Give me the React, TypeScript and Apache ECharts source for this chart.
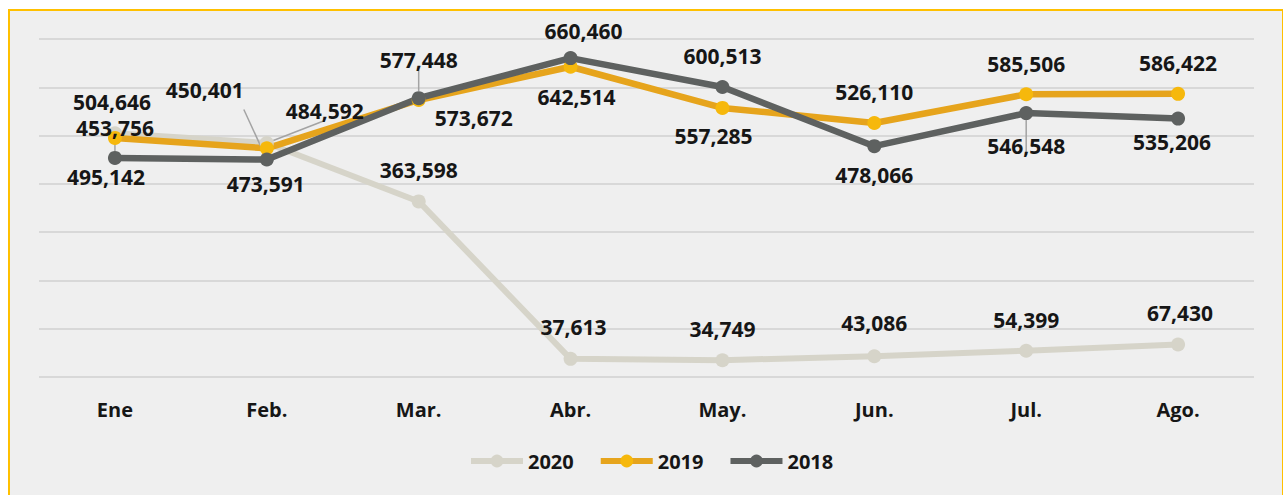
import React, { useEffect, useRef } from "react";
import * as echarts from "echarts";

const categories = ["Ene", "Feb.", "Mar.", "Abr.", "May.", "Jun.", "Jul.", "Ago."];
const seriesNames = ["2020", "2019", "2018"];
const values2020 = [504646, 484592, 363598, 37613, 34749, 43086, 54399, 67430];
const values2019 = [495142, 473591, 573672, 642514, 557285, 526110, 585506, 586422];
const values2018 = [453756, 450401, 577448, 660460, 600513, 478066, 546548, 535206];
const yMin = 0;
const yMax = 700000;
const yInterval = 100000;

// label offsets (relative to each point), kept apart from the data
const off2020 = [[-3, -31], [58, -32], [0, -31], [3, -32], [0, -31], [0, -33], [0, -31], [2, -31]];
const off2019 = [[-9, 39], [-1, 36], [55, 18], [6, 30], [-9, 28], [0, -31], [0, -30], [0, -31]];
const off2018 = [[0, -30], [-62, -70], [0, -38], [13, -27], [0, -31], [0, 29], [0, 33], [-6, 23]];
const leader2020 = [false, true, false, false, false, false, false, false];
const leader2019 = [false, false, false, false, false, false, false, false];
const leader2018 = [true, true, true, false, false, false, true, false];

const FONT = "'Open Sans', Lato, sans-serif";
const TEXT = "#161616";

function buildSeries(name: string, values: number[], offs: number[][], leaders: boolean[], lineColor: string, dotColor: string, width: number) {
  return {
    name,
    type: "line",
    symbol: "circle",
    symbolSize: 14,
    lineStyle: { color: lineColor, width, join: "round" },
    itemStyle: { color: dotColor, borderColor: dotColor, borderWidth: 0 },
    label: {
      show: true,
      position: "inside",
      fontFamily: FONT,
      fontWeight: "bold",
      fontSize: 21,
      lineHeight: 19,
      color: TEXT,
      formatter: (p: any) => Number(p.value).toLocaleString("en-US"),
    },
    labelLine: { show: false, lineStyle: { color: "#a3a3a3", width: 1.5 } },
    data: values.map((v, i) => ({
      value: v,
      label: { offset: offs[i] },
      labelLine: { show: leaders[i], lineStyle: { color: "#a3a3a3", width: 1.5 } },
    })),
  };
}

export default function App() {
  const ref = useRef<HTMLDivElement>(null);
  useEffect(() => {
    if (!ref.current) return;
    const chart = echarts.init(ref.current, undefined, { renderer: "svg" });
    chart.setOption({
      animation: false,
      backgroundColor: "transparent",
      grid: { left: 39, right: 29, top: 39, bottom: 118, containLabel: false },
      legend: {
        data: seriesNames,
        left: 463,
        top: 446,
        itemWidth: 52,
        itemHeight: 16,
        itemGap: 24,
        lineStyle: { width: 6 },
        textStyle: { fontFamily: FONT, fontWeight: "bold", fontSize: 20, color: TEXT },
      },
      xAxis: {
        type: "category",
        data: categories,
        boundaryGap: true,
        axisLine: { show: false },
        axisTick: { show: false },
        axisLabel: { fontFamily: FONT, fontWeight: "bold", fontSize: 20, color: TEXT, margin: 22 },
      },
      yAxis: {
        type: "value",
        min: yMin,
        max: yMax,
        interval: yInterval,
        axisLabel: { show: false },
        axisLine: { show: false },
        axisTick: { show: false },
        splitLine: { lineStyle: { color: "#d8d8d8", width: 2 } },
      },
      series: [
        buildSeries(seriesNames[0], values2020, off2020, leader2020, "#d6d4c9", "#d6d4c9", 6),
        buildSeries(seriesNames[1], values2019, off2019, leader2019, "#e6a41c", "#f6b80c", 6.5),
        buildSeries(seriesNames[2], values2018, off2018, leader2018, "#5e6160", "#5e6160", 6.5),
      ],
    });
    return () => chart.dispose();
  }, []);
  return (
    <div style={{ position: "fixed", left: 0, top: 0, width: 1283, height: 495, background: "#ffffff", overflow: "hidden" }}>
      <div
        style={{
          position: "absolute",
          left: 8,
          top: 9,
          width: 1272,
          height: 500,
          background: "#efefef",
          borderTop: "2px solid #ffc000",
          borderLeft: "2px solid #ffc000",
          borderRight: "2px solid #ffc000",
        }}
      />
      <div ref={ref} style={{ position: "absolute", left: 0, top: 0, width: 1283, height: 495 }} />
    </div>
  );
}
